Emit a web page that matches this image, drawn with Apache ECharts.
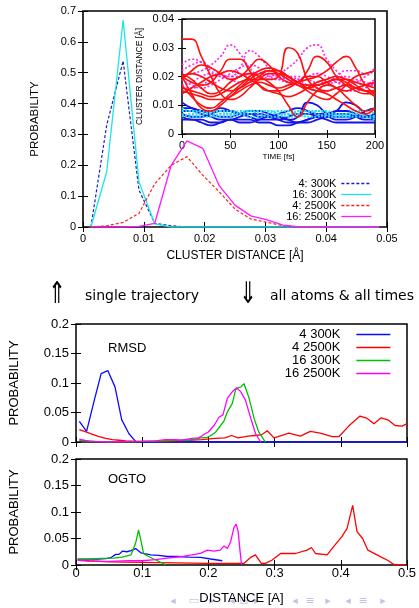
<!DOCTYPE html>
<html><head><meta charset="utf-8">
<script src="https://cdn.jsdelivr.net/npm/echarts@6/dist/echarts.min.js"></script>
<style>html,body{margin:0;padding:0;background:#fff}#c{width:419px;height:608px}</style>
</head><body><div id="c"></div>
<script>
// ---------- top panel: cluster distance histograms ----------
const topBins = [0.0013,0.0039,0.0066,0.0092,0.0118,0.0145,0.0171,0.0197,0.0224,0.025,0.0276,0.0303,0.0329,0.0355,0.0382,0.0408,0.0434,0.0461,0.0487];
const top4_300   = [0,0.33,0.538,0.12,0.012,0.004,0,0,0,0,0,0,0,0,0,0,0,0,0];
const top16_300  = [0,0.179,0.671,0.147,0.01,0,0,0,0,0,0,0,0,0,0,0,0,0,0];
const top4_2500  = [0,0.004,0.015,0.044,0.14,0.2,0.228,0.168,0.114,0.058,0.026,0.015,0.004,0.001,0,0,0,0,0];
const top16_2500 = [0,0,0,0.002,0.012,0.2,0.279,0.255,0.134,0.071,0.036,0.023,0.006,0,0,0,0,0,0];

// ---------- inset: cluster distance vs time (values in 10^-3 Å) ----------
const insetTime = [0,10,20,30,40,50,60,70,80,90,100,110,120,130,140,150,160,170,180,190,200];
const insetRed = [
  [33,33,27,20,14,12,13,16,19,21,21,20,18,17,17,18,19,19,18,17,16],
  [20,18,17,18,22,26,26,22,17,15,15,16,18,20,20,18,16,15,16,17,18],
  [21,19,16,14,15,18,20,21,20,18,15,10,6,11,15,17,16,13,10,8,9],
  [16,15,14,13,14,16,18,19,19,19,20,30,28,19,16,15,16,17,16,15,15],
  [20,21,20,18,16,15,16,18,20,22,22,20,18,22,27,25,20,17,15,14,14],
  [15,14,13,12,12,13,15,17,18,17,16,17,18,19,20,22,25,27,23,17,14],
  [20,14,9,8,10,13,16,19,21,22,21,19,17,16,17,18,19,18,16,15,13],
  [19,22,24,23,21,19,20,23,26,24,20,18,17,15,13,12,14,17,20,21,22],
  [17,13,10,9,11,14,17,20,22,23,22,20,18,16,15,14,12,10,8,7,9],
  [14,16,18,20,21,22,21,19,17,15,14,13,14,16,18,19,20,19,17,15,14]
];
const insetMagenta = [
  [20,21,22,24,27,31,28,23,20,19,19,20,20,19,18,18,19,20,19,18,17],
  [17,18,20,21,20,20,23,29,27,23,21,20,19,17,16,17,18,17,16,17,19],
  [24,26,25,22,20,19,18,18,19,20,21,23,26,30,31,26,22,19,18,17,17],
  [19,17,16,17,19,21,23,24,23,21,20,19,18,17,17,18,20,22,22,21,23],
  [16,16,17,19,21,22,21,20,21,22,21,19,17,16,15,15,16,15,15,16,18],
  [22,24,25,23,21,20,20,21,21,20,19,18,19,20,21,20,18,17,18,20,22]
];
const insetBlue = [
  [11,9,8,7,6,6,7,8,8,7,6,5,6,11,10,7,6,6,6,6,7],
  [6,5,5,4,4,5,5,5,4,4,3,3,4,5,6,6,5,5,6,8,9],
  [8,8,7,6,5,5,6,7,7,6,5,4,4,5,6,7,8,11,10,7,5],
  [7,6,6,7,8,8,7,6,5,5,5,6,7,7,6,5,4,4,4,4,4],
  [5,5,4,3,4,5,4,4,5,6,6,5,4,4,5,6,7,7,6,5,5],
  [9,9,8,8,9,8,7,7,6,6,7,8,9,8,7,7,8,8,7,6,6]
];
const insetCyan = [
  [8,8,7,7,8,8,7,6,6,7,8,8,7,6,6,7,7,6,6,6,6],
  [6,7,7,8,8,7,7,7,8,8,7,6,6,7,8,8,7,7,7,6,5],
  [7,6,6,6,7,7,8,8,7,6,6,7,7,8,7,6,6,7,8,8,7],
  [9,8,8,7,6,6,7,8,8,8,7,7,8,8,8,7,6,6,7,7,6]
];

// ---------- RMSD panel [distance, probability] ----------
const rmsd4_300 = [[0.005,0.035],[0.016,0.018],[0.027,0.068],[0.038,0.116],[0.048,0.121],[0.059,0.093],[0.069,0.038],[0.080,0.014],[0.090,0.001],[0.10,0],[0.2,0],[0.5,0]];
const rmsd4_2500 = [[0.005,0.021],[0.015,0.017],[0.025,0.013],[0.035,0.009],[0.045,0.006],[0.055,0.004],[0.065,0.003],[0.075,0.002],[0.09,0.001],[0.11,0.001],[0.13,0.001],[0.15,0.002],[0.17,0.003],[0.19,0.004],[0.21,0.006],[0.225,0.007],[0.235,0.011],[0.245,0.007],[0.26,0.010],[0.27,0.011],[0.28,0.012],[0.289,0.019],[0.299,0.007],[0.31,0.011],[0.3215,0.015],[0.339,0.010],[0.354,0.018],[0.369,0.015],[0.387,0.009],[0.397,0.009],[0.412,0.027],[0.429,0.044],[0.44,0.04],[0.45,0.031],[0.461,0.041],[0.472,0.037],[0.482,0.028],[0.4925,0.027],[0.5,0.031]];
const rmsd16_300 = [[0.005,0.003],[0.03,0.001],[0.06,0.0005],[0.09,0.001],[0.11,0.001],[0.13,0.002],[0.15,0.003],[0.17,0.003],[0.18,0.005],[0.1885,0.007],[0.1985,0.008],[0.205,0.012],[0.211,0.017],[0.2186,0.028],[0.2236,0.036],[0.2286,0.051],[0.236,0.065],[0.241,0.088],[0.245,0.092],[0.249,0.093],[0.2537,0.099],[0.261,0.076],[0.269,0.04],[0.276,0.017],[0.286,0]];
const rmsd16_2500 = [[0.005,0.005],[0.02,0.001],[0.05,0],[0.1,0.001],[0.12,0.002],[0.135,0.004],[0.148,0.004],[0.16,0.003],[0.175,0.006],[0.185,0.007],[0.1885,0.009],[0.195,0.014],[0.2,0.017],[0.2085,0.028],[0.216,0.042],[0.222,0.046],[0.2286,0.074],[0.236,0.085],[0.2427,0.092],[0.249,0.085],[0.256,0.071],[0.264,0.04],[0.2713,0.014],[0.279,0]];

// ---------- OGTO panel [distance, probability] ----------
const ogto4_300 = [[0.0025,0.011],[0.02,0.011],[0.033,0.011],[0.045,0.012],[0.053,0.014],[0.06,0.02],[0.065,0.02],[0.070,0.026],[0.077,0.025],[0.083,0.027],[0.090,0.031],[0.098,0.023],[0.113,0.019],[0.125,0.018],[0.138,0.016],[0.155,0.016],[0.17,0.015],[0.188,0.0145],[0.2035,0.0113],[0.221,0.008]];
const ogto4_2500 = [[0.0025,0.01],[0.02,0.008],[0.05,0.006],[0.1,0.005],[0.15,0.004],[0.2,0.003],[0.2537,0.003],[0.264,0.0145],[0.271,0.019],[0.28,0.003],[0.286,0.003],[0.2965,0.0094],[0.309,0.0217],[0.3317,0.0217],[0.349,0.028],[0.3557,0.033],[0.3618,0.0217],[0.3794,0.019],[0.3895,0.035],[0.402,0.054],[0.4095,0.069],[0.418,0.1125],[0.4246,0.063],[0.433,0.05],[0.441,0.028],[0.4598,0.0157],[0.472,0.008],[0.48,0.001],[0.497,0]];
const ogto16_300 = [[0.0025,0.011],[0.02,0.011],[0.0377,0.0126],[0.057,0.013],[0.07,0.015],[0.083,0.019],[0.090,0.041],[0.0945,0.066],[0.098,0.047],[0.102,0.022],[0.108,0.017],[0.1206,0.0094],[0.133,0.002],[0.135,0]];
const ogto16_2500 = [[0.0025,0.009],[0.0176,0.0075],[0.05,0.007],[0.08,0.008],[0.1,0.008],[0.12,0.01],[0.138,0.013],[0.16,0.016],[0.175,0.019],[0.188,0.022],[0.1985,0.028],[0.2085,0.026],[0.218,0.028],[0.2236,0.036],[0.2286,0.031],[0.2337,0.044],[0.2387,0.071],[0.242,0.077],[0.245,0.063],[0.2477,0.028],[0.25,0.001]];

const topNames = ['4: 300K','16: 300K','4: 2500K','16: 2500K'];
const botNames = ['4 300K','4 2500K','16 300K','16 2500K'];

// ---------- styling / layout ----------
const SANS = 'Liberation Sans, Arial, sans-serif';
const TXT = 'DejaVu Sans, sans-serif';

function axisPair(dim, grid, min, max, interval, fs, showLabel, margin, tickLen, nameCfg) {
  const base = {
    type: 'value', gridIndex: grid, min, max, interval,
    axisLine: { show: false }, splitLine: { show: false },
    axisTick: { show: true, inside: true, length: tickLen, lineStyle: { color: '#000', width: 1 } }
  };
  const main = Object.assign({}, base, {
    position: dim === 'x' ? 'bottom' : 'left',
    axisLabel: { show: showLabel, fontSize: fs, fontFamily: SANS, color: '#000', margin }
  }, nameCfg || {});
  const mirror = Object.assign({}, base, {
    position: dim === 'x' ? 'top' : 'right',
    axisLabel: { show: false }
  });
  return [main, mirror];
}
const nameStyle = (fs) => ({ fontSize: fs, fontFamily: SANS, color: '#000' });

const xAxes = [].concat(
  axisPair('x', 0, 0, 0.05, 0.01, 11, true, 6, 5, { name: 'CLUSTER DISTANCE [Å]', nameLocation: 'middle', nameGap: 23, nameTextStyle: nameStyle(12) }),
  axisPair('x', 1, 0, 200, 50, 11, true, 6, 4, { name: 'TIME [fs]', nameLocation: 'middle', nameGap: 19, nameTextStyle: nameStyle(8) }),
  axisPair('x', 2, 0, 0.5, 0.1, 13, false, 4, 5),
  axisPair('x', 3, 0, 0.5, 0.1, 13, true, 2, 5, { name: 'DISTANCE [A]', nameLocation: 'middle', nameGap: 27, nameTextStyle: nameStyle(13) })
);
const yAxes = [].concat(
  axisPair('y', 0, 0, 0.7, 0.1, 11, true, 7, 5, { name: 'PROBABILITY', nameLocation: 'middle', nameGap: 42, nameRotate: 90, nameTextStyle: nameStyle(11.5) }),
  axisPair('y', 1, 0, 0.04, 0.01, 11, true, 8, 4, { name: 'CLUSTER DISTANCE [Å]', nameLocation: 'middle', nameGap: 38, nameRotate: 90, nameTextStyle: nameStyle(8.5) }),
  axisPair('y', 2, 0, 0.2, 0.05, 13, true, 7, 5, { name: 'PROBABILITY', nameLocation: 'middle', nameGap: 55, nameRotate: 90, nameTextStyle: nameStyle(13) }),
  axisPair('y', 3, 0, 0.2, 0.05, 13, true, 7, 5, { name: 'PROBABILITY', nameLocation: 'middle', nameGap: 55, nameRotate: 90, nameTextStyle: nameStyle(13) })
);

const series = [];
function addLine(name, data, xi, yi, color, width, type, smooth, z) {
  series.push({ name, type: 'line', data, xAxisIndex: xi, yAxisIndex: yi, symbol: 'none',
    smooth: smooth || false, z: z || 2,
    lineStyle: { color, width, type: type || 'solid' }, itemStyle: { color } });
}
// top panel
const pair = (xs, ys) => xs.map((x, i) => [x, ys[i]]);
addLine(topNames[0], pair(topBins, top4_300), 0, 0, '#1c1cc8', 1.2, [3, 2]);
addLine(topNames[1], pair(topBins, top16_300), 0, 0, '#19e6e6', 1.3);
addLine(topNames[2], pair(topBins, top4_2500), 0, 0, '#ff2020', 1.2, [3, 2]);
addLine(topNames[3], pair(topBins, top16_2500), 0, 0, '#ff19ff', 1.3);
// inset (10^-3 Å -> Å)
const insetPts = (arr) => insetTime.map((t, i) => [t, arr[i] / 1000]);
insetBlue.forEach((a, k) => addLine('inB' + k, insetPts(a), 2, 2, '#1414e6', 1.8, 'solid', 0.5, 3));
insetCyan.forEach((a, k) => addLine('inC' + k, insetPts(a), 2, 2, '#22e0ea', 2, [2, 1.5], 0.5, 3));
insetMagenta.forEach((a, k) => addLine('inM' + k, insetPts(a), 2, 2, '#ff22ee', 1.6, [2, 2], 0.5, 3));
insetRed.forEach((a, k) => addLine('inR' + k, insetPts(a), 2, 2, '#ff1010', 1.6, 'solid', 0.5, 3));
// RMSD
addLine(botNames[0], rmsd4_300, 4, 4, '#0a0aff', 1.3);
addLine(botNames[1], rmsd4_2500, 4, 4, '#ff0000', 1.3);
addLine(botNames[2], rmsd16_300, 4, 4, '#00c000', 1.3);
addLine(botNames[3], rmsd16_2500, 4, 4, '#ff00ff', 1.3);
// OGTO
addLine(botNames[0], ogto4_300, 6, 6, '#0a0aff', 1.3);
addLine(botNames[1], ogto4_2500, 6, 6, '#ff0000', 1.3);
addLine(botNames[2], ogto16_300, 6, 6, '#00c000', 1.3);
addLine(botNames[3], ogto16_2500, 6, 6, '#ff00ff', 1.3);

const gridBase = { show: true, borderColor: '#000', containLabel: false };
const nav = [['◂',173],['▭',194],['▸',212],['◂',232],['⊟',244],['▸',257],['◂',295],['≡',310],['▸',328],['◂',348],['≡',363],['▸',383]];

const arrow = (t, x) => ({ type: 'text', x, y: 295, scaleX: 0.7, originX: 0, originY: 0,
  style: { text: t, fontSize: 30, fontFamily: TXT, fill: '#000', align: 'center', verticalAlign: 'middle' } });

const option = {
  animation: false,
  backgroundColor: '#fff',
  grid: [
    Object.assign({}, gridBase, { left: 83, top: 11, width: 304, height: 216, borderWidth: 1.6 }),
    Object.assign({}, gridBase, { left: 182, top: 19, width: 193, height: 115, borderWidth: 1.5, backgroundColor: '#fff' }),
    Object.assign({}, gridBase, { left: 75, top: 324, width: 332, height: 118, borderWidth: 1.5 }),
    Object.assign({}, gridBase, { left: 75, top: 459, width: 332, height: 106, borderWidth: 1.5 })
  ],
  xAxis: xAxes,
  yAxis: yAxes,
  legend: [
    { data: topNames, orient: 'vertical', align: 'right', right: 42, top: 173, itemWidth: 30, itemHeight: 8,
      itemGap: 0, selectedMode: false, textStyle: { fontSize: 11, fontFamily: SANS, color: '#000' },
      itemStyle: { color: 'transparent', borderWidth: 0 }, lineStyle: { width: 1.3 } },
    { data: botNames, orient: 'vertical', align: 'right', right: 23, top: 323, itemWidth: 34, itemHeight: 8,
      itemGap: 0, selectedMode: false, formatter: (n) => n + '   ',
      textStyle: { fontSize: 13, fontFamily: SANS, color: '#000' },
      itemStyle: { color: 'transparent', borderWidth: 0 }, lineStyle: { width: 1.3 } }
  ],
  graphic: [
    arrow('⇑', 57),
    { type: 'text', x: 85, y: 296, style: { text: 'single trajectory', fontSize: 14, fontFamily: TXT, fill: '#000', align: 'left', verticalAlign: 'middle' } },
    arrow('⇓', 248),
    { type: 'text', x: 270, y: 296, style: { text: 'all atoms & all times', fontSize: 14, fontFamily: TXT, fill: '#000', align: 'left', verticalAlign: 'middle' } },
    { type: 'text', x: 108, y: 348, style: { text: 'RMSD', fontSize: 13, fontFamily: SANS, fill: '#000', align: 'left', verticalAlign: 'middle' } },
    { type: 'text', x: 108, y: 479, style: { text: 'OGTO', fontSize: 13, fontFamily: SANS, fill: '#000', align: 'left', verticalAlign: 'middle' } }
  ].concat(nav.map(([t, x]) => ({ type: 'text', x, y: 601, z: -1,
    style: { text: t, fontSize: 11, fontFamily: TXT, fill: 'rgba(120,120,200,0.45)', align: 'center', verticalAlign: 'middle' } }))),
  series
};
const chart = echarts.init(document.getElementById('c'), null, { renderer: 'canvas' });
chart.setOption(option);
</script></body></html>
